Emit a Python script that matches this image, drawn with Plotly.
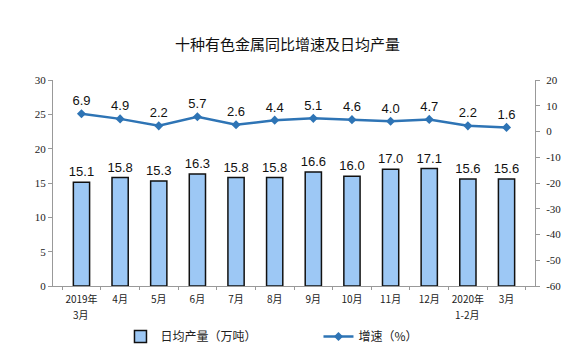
import plotly.graph_objects as go

categories = ["2019年3月", "4月", "5月", "6月", "7月", "8月", "9月", "10月", "11月", "12月", "2020年1-2月", "3月 "]
tick_line1 = ["2019年", "4月", "5月", "6月", "7月", "8月", "9月", "10月", "11月", "12月", "2020年", "3月"]
tick_line2 = ["3月", "", "", "", "", "", "", "", "", "", "1-2月", ""]
output = [15.1, 15.8, 15.3, 16.3, 15.8, 15.8, 16.6, 16.0, 17.0, 17.1, 15.6, 15.6]
growth = [6.9, 4.9, 2.2, 5.7, 2.6, 4.4, 5.1, 4.6, 4.0, 4.7, 2.2, 1.6]
left_ticks = [0, 5, 10, 15, 20, 25, 30]
right_ticks = [-60, -50, -40, -30, -20, -10, 0, 10, 20]

fig = go.Figure()
fig.add_trace(go.Bar(
    x=categories, y=output, name="日均产量（万吨）",
    marker=dict(color="#9DC8F5", line=dict(color="#111111", width=1.5)),
    width=0.42,
    text=[f"{v:.1f}" for v in output], textposition="outside",
    constraintext="none",
    textfont=dict(family="Liberation Sans, Arial", size=13, color="#111"),
    cliponaxis=False,
))
fig.add_trace(go.Scatter(
    x=categories, y=growth, name="增速（%）", yaxis="y2",
    mode="lines+markers+text",
    line=dict(color="#2E74B5", width=2.5),
    marker=dict(symbol="diamond", size=7, color="#2E74B5"),
    text=[f"{v:.1f}" for v in growth], textposition="top center",
    textfont=dict(family="Liberation Sans, Arial", size=13, color="#111"),
    cliponaxis=False,
))

for cat, t2 in zip(categories, tick_line2):
    if t2:
        fig.add_annotation(x=cat, xref="x", y=0, yref="paper", yshift=-28,
                           text=t2, showarrow=False, yanchor="middle",
                           font=dict(family="Noto Sans CJK SC", size=10, color="#222"))

fig.update_layout(
    width=575, height=355,
    margin=dict(l=53, r=40, t=80, b=69, autoexpand=False),
    paper_bgcolor="white", plot_bgcolor="white",
    title=dict(text="十种有色金属同比增速及日均产量", x=0.5, xanchor="center", y=0.875, yanchor="middle",
               font=dict(family="Noto Sans CJK SC", size=15, color="#111")),
    font=dict(family="Noto Sans CJK SC", size=11, color="#222"),
    showlegend=True,
    legend=dict(orientation="h", x=0.14, xanchor="left", y=-0.245, yanchor="middle",
                entrywidth=153, entrywidthmode="pixels",
                font=dict(family="Noto Sans CJK SC", size=12, color="#222"),
                itemwidth=30),
    xaxis=dict(type="category", tickson="boundaries", ticks="outside", ticklen=3,
               tickcolor="#999", showline=True, linecolor="#999", linewidth=1,
               tickangle=0, automargin=False, ticklabelstandoff=4,
               tickvals=categories, ticktext=tick_line1,
               tickfont=dict(family="Noto Sans CJK SC", size=10, color="#222"),
               showgrid=False),
    yaxis=dict(range=[0, 30], tickvals=left_ticks, ticks="outside", ticklen=4,
               tickcolor="#999", showline=True, linecolor="#999", linewidth=1,
               showgrid=False, zeroline=False, automargin=False,
               tickfont=dict(family="Liberation Serif", size=11, color="#222")),
    yaxis2=dict(range=[-60, 20], tickvals=right_ticks, ticktext=[str(v) for v in right_ticks],
                overlaying="y", side="right",
                ticks="outside", ticklen=4, tickcolor="#999", showline=True,
                linecolor="#999", linewidth=1, showgrid=False, zeroline=False,
                automargin=False, ticklabelstandoff=4,
                tickfont=dict(family="Liberation Serif", size=11, color="#222")),
    bargap=0.5,
)

fig.write_html("out.html")
